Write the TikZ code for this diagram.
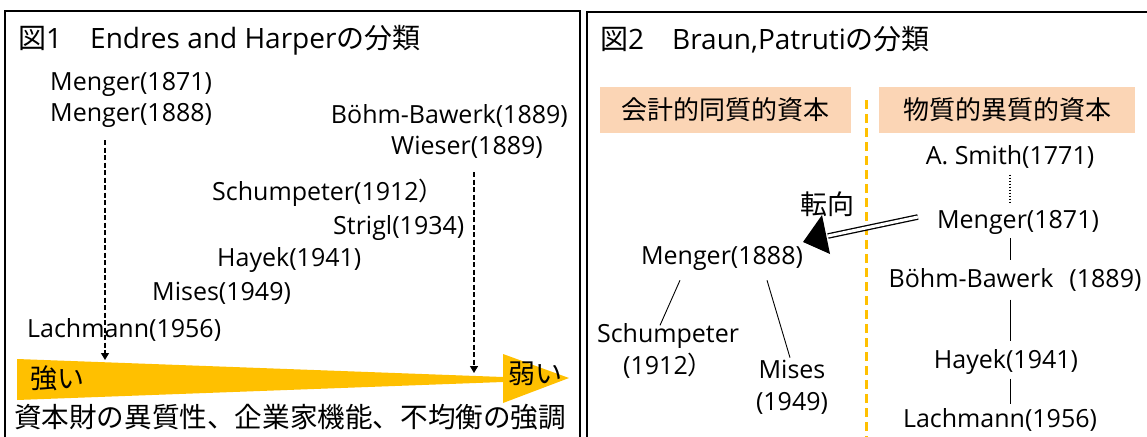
\documentclass[tikz,border=0pt]{standalone}
\usepackage{fontspec}
\setmainfont{Open Sans}
\newfontfamily\jp{Noto Sans CJK JP}
\usetikzlibrary{arrows.meta,calc}
\definecolor{gold}{HTML}{FFC000}
\definecolor{peach}{HTML}{FBD5B5}
\begin{document}
\begin{tikzpicture}[x=1pt,y=-1pt,
  ttl/.style={inner sep=0pt, anchor=west, font=\fontsize{28}{32}\selectfont},
  nm/.style={inner sep=0pt, anchor=west, font=\fontsize{25}{30}\selectfont},
  nmc/.style={inner sep=0pt, anchor=center, font=\fontsize{25}{32}\selectfont, align=center},
  jpl/.style={inner sep=0pt, anchor=west, font=\jp\fontsize{27}{30}\selectfont},
  hdr/.style={fill=peach, inner sep=0pt, anchor=center, font=\jp\fontsize{26}{30}\selectfont},
  frame/.style={line width=1.6pt},
  dsh/.style={line width=1.4pt, dash pattern=on 5pt off 2.5pt, -{Triangle[width=8pt,length=7pt]}},
  thin/.style={line width=0.9pt}]
\useasboundingbox (0,0) rectangle (1147,436);
\clip (0,0) rectangle (1147,436);
\fill[white] (0,0) rectangle (1147,436);
% frames
\draw[frame] (5,445) -- (5,11) -- (580,11) -- (580,445);
\draw[frame] (587,445) -- (587,12) -- (1152,12);
% ---------- left panel
\node[ttl] (t1) at (18,40) {{\jp 図}1{\jp 　}Endres and Harper{\jp の分類}};
\node[nm] (a1) at (50,84) {Menger(1871)};
\node[nm] (a2) at (50,115) {Menger(1888)};
\node[nm,anchor=east] (a3) at (568,116) {Böhm-Bawerk(1889)};
\node[nm,anchor=east] (a4) at (543,147) {Wieser(1889)};
\node[nm] (a5) at (212,193) {Schumpeter(1912{\jp ）}};
\node[nm] (a6) at (333,228) {Strigl(1934)};
\node[nm] (a7) at (217,260) {Hayek(1941)};
\node[nm] (a8) at (152,293) {Mises(1949)};
\node[nm] (a9) at (27,330) {Lachmann(1956)};
\fill[gold] (17,359) -- (503,377) -- (503,354) -- (569,378) -- (503,403) -- (503,382) -- (17,400) -- cycle;
\node[jpl] (strong) at (30,378) {強い};
\node[jpl] (weak) at (508,374) {弱い};
\node[jpl,anchor=center,font=\jp\fontsize{27.6}{30}\selectfont] (emph) at (290,417) {資本財の異質性、企業家機能、不均衡の強調};
\coordinate (d1a) at (105,140);
\coordinate (d1b) at (105,360);
\coordinate (d2a) at (474,172);
\coordinate (d2b) at (474,373);
\draw[dsh] (d1a) -- (d1b);
\draw[dsh] (d2a) -- (d2b);
% ---------- right panel
\node[ttl] (t2) at (600,40) {{\jp 図}2{\jp 　}Braun,Patruti{\jp の分類}};
\node[hdr, minimum width=251pt, minimum height=46pt] (h1) at (725,110) {会計的同質的資本};
\node[hdr, minimum width=256pt, minimum height=46pt] (h2) at (1007,110) {物質的異質的資本};
\coordinate (oa) at (866,100);
\coordinate (ob) at (866,440);
\draw[gold, line width=3pt, dash pattern=on 9pt off 5pt] (oa) -- (ob);
\coordinate (vx) at (1010,0);
\node[nmc] (s) at (1010,157) {A. Smith(1771)};
\node[nmc] (m71) at (1018,222) {Menger(1871)};
\node[nmc] (bb) at (1015,280) {Böhm-Bawerk\hspace{16pt}(1889)};
\node[nmc] (hy) at (1006,362) {Hayek(1941)};
\node[nmc] (lm) at (1000,420) {Lachmann(1956)};
\draw[line width=1.3pt, dash pattern=on 1.5pt off 1.5pt, shorten <=6pt, shorten >=6pt] (s.south -| vx) -- (m71.north -| vx);
\draw[thin, shorten <=4pt, shorten >=8pt] (m71.south -| vx) -- (bb.north -| vx);
\draw[thin, shorten <=8pt, shorten >=8pt] (bb.south -| vx) -- (hy.north -| vx);
\draw[thin, shorten <=4pt, shorten >=4pt] (hy.south -| vx) -- (lm.north -| vx);
\node[nmc] (m88) at (722,258) {Menger(1888)};
\node[jpl,anchor=center] (tk) at (827,204) {転向};
\node[nmc] (sch) at (668,351) {Schumpeter\\(1912{\jp ）}};
\node[nmc] (mis) at (792,387) {Mises\\(1949)};
\draw[thin] ($(m88.south)+(-42,10)$) -- ($(sch.north)+(-8,2)$);
\draw[thin] ($(m88.south)+(45,10)$) -- ($(mis.north)+(-2,-2)$);
% turn arrow
\coordinate (da) at ($(m71.west)+(-19,-5)$);
\coordinate (hb) at (828,236);
\coordinate (tip) at (803,242);
\draw[double=white, double distance=3pt, line width=1.3pt] (da) -- (hb);
\fill (tip) -- (822,215) -- (830,254) -- cycle;
\end{tikzpicture}
\end{document}
